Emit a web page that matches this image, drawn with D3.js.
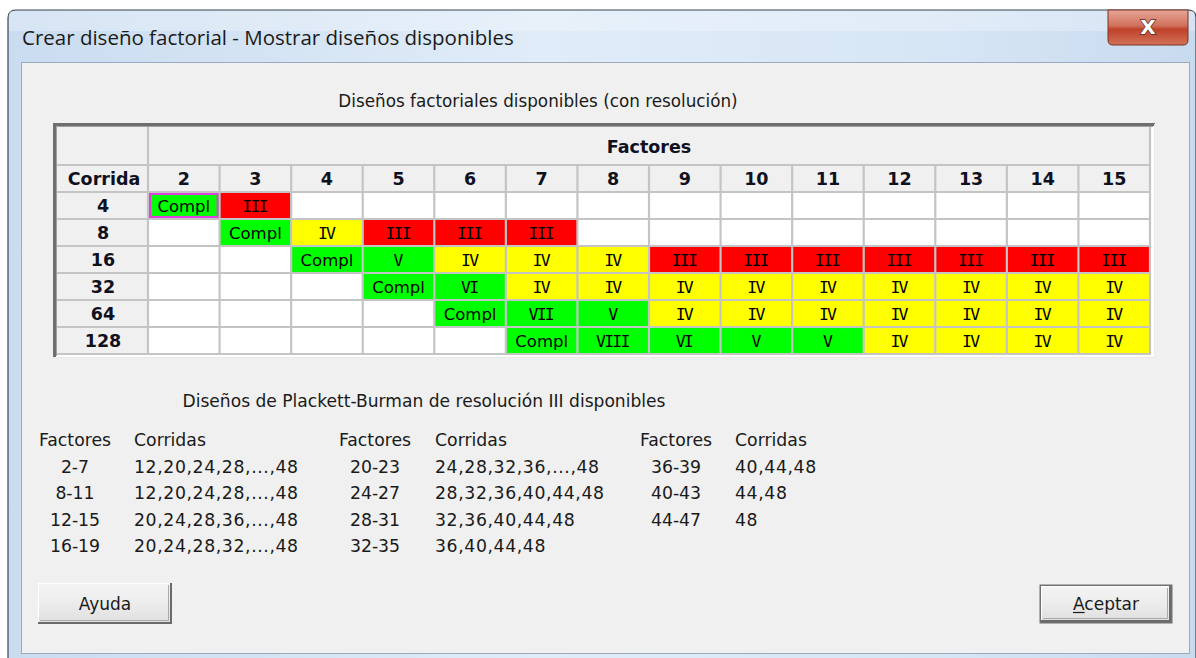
<!DOCTYPE html>
<html><head><meta charset="utf-8">
<script src="https://cdn.jsdelivr.net/npm/d3@7"></script>
<style>html,body{margin:0;padding:0;background:#fff;overflow:hidden}</style>
</head><body><svg id="c" width="1196" height="658" xmlns="http://www.w3.org/2000/svg"></svg>
<script>
// ---------- data ----------
const windowTitle = "Crear diseño factorial - Mostrar diseños disponibles";
const tableTitle = "Diseños factoriales disponibles (con resolución)";
const pbTitle = "Diseños de Plackett-Burman de resolución III disponibles";
const factors = [2,3,4,5,6,7,8,9,10,11,12,13,14,15];
const runs = [4,8,16,32,64,128];
const res4   = ["Compl","III","","","","","","","","","","","",""];
const res8   = ["","Compl","IV","III","III","III","","","","","","","",""];
const res16  = ["","","Compl","V","IV","IV","IV","III","III","III","III","III","III","III"];
const res32  = ["","","","Compl","VI","IV","IV","IV","IV","IV","IV","IV","IV","IV"];
const res64  = ["","","","","Compl","VII","V","IV","IV","IV","IV","IV","IV","IV"];
const res128 = ["","","","","","Compl","VIII","VI","V","V","IV","IV","IV","IV"];
const resolutionLevels = ["", "Compl","III","IV","V","VI","VII","VIII"];
const levelColors = ["#ffffff","#00ff00","#ff0000","#ffff00","#00ff00","#00ff00","#00ff00","#00ff00"];
const pbFactors = ["2-7","8-11","12-15","16-19","20-23","24-27","28-31","32-35","36-39","40-43","44-47"];
const pbRuns = ["12,20,24,28,...,48","12,20,24,28,...,48","20,24,28,36,...,48","20,24,28,32,...,48",
                "24,28,32,36,...,48","28,32,36,40,44,48","32,36,40,44,48","36,40,44,48",
                "40,44,48","44,48","48"];
const pbHeaders = ["Factores","Corridas"];
const buttonLabels = ["Ayuda","Aceptar"];

(function(){
// ---------- drawing ----------
const svg = d3.select("#c");
const FONT = "'DejaVu Sans', Verdana, sans-serif";
const defs = svg.append("defs");

const gFrame = defs.append("linearGradient").attr("id","frameG").attr("x1",0).attr("x2",1).attr("y1",0).attr("y2",0);
gFrame.append("stop").attr("offset","0").attr("stop-color","#cadcf0");
gFrame.append("stop").attr("offset","0.45").attr("stop-color","#e0ecf8");
gFrame.append("stop").attr("offset","0.8").attr("stop-color","#d6e5f5");
gFrame.append("stop").attr("offset","1").attr("stop-color","#c8daee");

const gClose = defs.append("linearGradient").attr("id","closeG").attr("x1",0).attr("x2",0).attr("y1",0).attr("y2",1);
gClose.append("stop").attr("offset","0").attr("stop-color","#e7a797");
gClose.append("stop").attr("offset","0.45").attr("stop-color","#d0705c");
gClose.append("stop").attr("offset","0.55").attr("stop-color","#c0412a");
gClose.append("stop").attr("offset","1").attr("stop-color","#d2725a");

const gBtn = defs.append("linearGradient").attr("id","btnG").attr("x1",0).attr("x2",0).attr("y1",0).attr("y2",1);
gBtn.append("stop").attr("offset","0").attr("stop-color","#f4f4f4");
gBtn.append("stop").attr("offset","0.5").attr("stop-color","#ececec");
gBtn.append("stop").attr("offset","1").attr("stop-color","#dedede");

svg.append("rect").attr("width",1196).attr("height",658).attr("fill","#ffffff");

// window frame
svg.append("path")
  .attr("d","M8,670 L8,18 Q8,10 16,10 L1188,10 Q1196,10 1196,18 L1196,670 Z")
  .attr("fill","url(#frameG)").attr("stroke","#3c4654").attr("stroke-width",1.2);
svg.append("rect").attr("x",9).attr("y",11).attr("width",1186).attr("height",20)
  .attr("fill","#ffffff").attr("opacity",0.25);

svg.append("text").attr("x",22).attr("y",45).attr("font-family","'Open Sans', 'Noto Sans', sans-serif")
  .attr("font-size",20.5).attr("fill","#1a1a1a").text(windowTitle);

// close button
svg.append("path")
  .attr("d","M1108,10 L1188,10 L1188,40 Q1188,45 1183,45 L1113,45 Q1108,45 1108,40 Z")
  .attr("fill","url(#closeG)").attr("stroke","#7a3325").attr("stroke-width",1);
svg.append("text").attr("x",1148).attr("y",34).attr("text-anchor","middle")
  .attr("font-family",FONT).attr("font-weight","bold").attr("font-size",20)
  .attr("fill","#ffffff").attr("stroke","#5a2a20").attr("stroke-width",1.4).attr("paint-order","stroke")
  .text("X");

// client area
svg.append("rect").attr("x",21.5).attr("y",62.5).attr("width",1168).attr("height",591)
  .attr("fill","#f0f0f0").attr("stroke","#9aabbf").attr("stroke-width",1);

// table title
svg.append("text").attr("x",538).attr("y",107).attr("text-anchor","middle")
  .attr("font-family",FONT).attr("font-size",16.8).attr("fill","#1a1a1a").text(tableTitle);

// ---------- table ----------
const tLeft = 57, tTop = 127, colStart = 148, tRight = 1150, hdrBottom = 165, rowsTop = 192, tBottom = 354;
const x = d3.scaleBand().domain(factors).range([colStart, tRight]);
const y = d3.scaleBand().domain(runs).range([rowsTop, tBottom]);
const color = d3.scaleOrdinal().domain(resolutionLevels).range(levelColors);
const rowsData = [res4,res8,res16,res32,res64,res128];
const cells = [];
runs.forEach((r,i)=>factors.forEach((f,j)=>cells.push({r,f,v:rowsData[i][j]})));

const tg = svg.append("g");
// frame (sunken)
tg.append("rect").attr("x",53).attr("y",123).attr("width",1102).attr("height",235).attr("fill","#ffffff");
tg.append("rect").attr("x",tLeft).attr("y",tTop).attr("width",tRight-tLeft).attr("height",tBottom-tTop).attr("fill","#f0f0f0");
tg.append("path").attr("d","M54.5,358 L54.5,124.5 L1155,124.5").attr("fill","none").attr("stroke","#6e6e6e").attr("stroke-width",3);
tg.append("path").attr("d","M56.5,356 L56.5,126.5 L1153,126.5").attr("fill","none").attr("stroke","#a0a0a0").attr("stroke-width",1);
tg.append("path").attr("d","M1154.5,124 L1154.5,357.5 L53,357.5").attr("fill","none").attr("stroke","#e8e8e8").attr("stroke-width",1);

// cells
tg.selectAll("rect.cell").data(cells).join("rect").attr("class","cell")
  .attr("x",d=>x(d.f)).attr("y",d=>y(d.r))
  .attr("width",x.bandwidth()).attr("height",y.bandwidth())
  .attr("fill",d=>color(d.v));

// grid lines
const gridColor = "#c4c4c4";
const vlines = factors.map(f=>x(f)).concat([tRight]);
tg.selectAll("line.v").data(vlines).join("line").attr("class","v")
  .attr("x1",d=>d).attr("x2",d=>d).attr("y1",(d,i)=> (i===0||i===vlines.length-1)?tTop:hdrBottom).attr("y2",tBottom)
  .attr("stroke",gridColor).attr("stroke-width",2.2);
const hlines = [hdrBottom].concat(runs.map(r=>y(r))).concat([tBottom]);
tg.selectAll("line.h").data(hlines).join("line").attr("class","h")
  .attr("x1",tLeft).attr("x2",tRight+1).attr("y1",d=>d).attr("y2",d=>d)
  .attr("stroke",gridColor).attr("stroke-width",2.2);

// selected cell outline
const sel = cells[0];
tg.append("rect").attr("x",x(sel.f)+2).attr("y",y(sel.r)+2)
  .attr("width",x.bandwidth()-4).attr("height",y.bandwidth()-4)
  .attr("fill","none").attr("stroke","#e040e0").attr("stroke-width",2);

// cell labels
tg.selectAll("text.cl").data(cells.filter(d=>d.v)).join("text").attr("class","cl")
  .attr("x",d=>x(d.f)+x.bandwidth()/2+(d.v==="Compl"?0:-0.9)).attr("y",d=>y(d.r)+y.bandwidth()/2+6)
  .attr("text-anchor","middle")
  .attr("font-family",d=>d.v==="Compl"?FONT:"'DejaVu Sans Mono', monospace")
  .attr("font-size",d=>d.v==="Compl"?16.5:16.5)
  .attr("letter-spacing",d=>d.v==="Compl"?0:-1.8)
  .attr("fill","#000").text(d=>d.v);

// headers
const hb = {"font-family":FONT,"font-weight":"bold","font-size":17.5,"fill":"#0f1020"};
function applyAttrs(s,o){Object.entries(o).forEach(([k,v])=>s.attr(k,v));return s;}
applyAttrs(tg.append("text").attr("x",(colStart+tRight)/2).attr("y",153).attr("text-anchor","middle"),hb).text("Factores");
applyAttrs(tg.append("text").attr("x",104).attr("y",(hdrBottom+rowsTop)/2+6.5).attr("text-anchor","middle"),hb).text("Corrida");
factors.forEach(f=>{
  applyAttrs(tg.append("text").attr("x",x(f)+x.bandwidth()/2).attr("y",(hdrBottom+rowsTop)/2+6.5).attr("text-anchor","middle"),hb).text(f);
});
runs.forEach(r=>{
  applyAttrs(tg.append("text").attr("x",103).attr("y",y(r)+y.bandwidth()/2+6.5).attr("text-anchor","middle"),hb).text(r);
});

// ---------- Plackett-Burman ----------
svg.append("text").attr("x",424).attr("y",407).attr("text-anchor","middle")
  .attr("font-family",FONT).attr("font-size",17.1).attr("fill","#1a1a1a").text(pbTitle);
const groupX = [{fc:75, cx:134},{fc:375, cx:435},{fc:676, cx:735}];
const pbY = d3.scalePoint().domain([0,1,2,3,4]).range([446,552]);
const pbFont = {"font-family":FONT,"font-size":17.3,"fill":"#1a1a1a"};
groupX.forEach((g,gi)=>{
  applyAttrs(svg.append("text").attr("x",g.fc).attr("y",pbY(0)).attr("text-anchor","middle"),pbFont).text(pbHeaders[0]);
  applyAttrs(svg.append("text").attr("x",g.cx).attr("y",pbY(0)),pbFont).text(pbHeaders[1]);
  for(let k=0;k<4;k++){
    const idx = gi*4+k;
    if(idx>=pbFactors.length) break;
    applyAttrs(svg.append("text").attr("x",g.fc).attr("y",pbY(k+1)).attr("text-anchor","middle"),pbFont).text(pbFactors[idx]);
    applyAttrs(svg.append("text").attr("x",g.cx).attr("y",pbY(k+1)).attr("letter-spacing",0.6),pbFont).text(pbRuns[idx]);
  }
});

// ---------- buttons ----------
function button(x0,y0,w,h,label,isDefault){
  const g = svg.append("g");
  if(isDefault){
    g.append("rect").attr("x",x0+0.5).attr("y",y0+0.5).attr("width",w-1).attr("height",h-1)
      .attr("fill","#707070");
    x0+=2;y0+=2;w-=4;h-=4;
  }
  g.append("rect").attr("x",x0).attr("y",y0).attr("width",w).attr("height",h).attr("fill","url(#btnG)");
  g.append("path").attr("d",`M${x0+0.5},${y0+h} L${x0+0.5},${y0+0.5} L${x0+w},${y0+0.5}`).attr("fill","none").attr("stroke","#ffffff").attr("stroke-width",1);
  g.append("path").attr("d",`M${x0+w-1},${y0} L${x0+w-1},${y0+h-1} L${x0},${y0+h-1}`).attr("fill","none").attr("stroke","#6a6a6a").attr("stroke-width",2);
  g.append("path").attr("d",`M${x0+w-3.5},${y0+2} L${x0+w-3.5},${y0+h-3.5} L${x0+2},${y0+h-3.5}`).attr("fill","none").attr("stroke","#a9a9a9").attr("stroke-width",1);
  const t = g.append("text").attr("x",x0+w/2).attr("y",y0+h/2+6).attr("text-anchor","middle")
    .attr("font-family",FONT).attr("font-size",17).attr("fill","#1a1a1a").text(label);
  return t;
}
button(38,583,134,41,buttonLabels[0],false);
const acc = button(1039,584,134,40,buttonLabels[1],true);
// underline first letter of "Aceptar"
const bb = acc.node().getBBox();
const tmp = svg.append("text").attr("font-family",FONT).attr("font-size",17).text(buttonLabels[1][0]);
const firstW = tmp.node().getComputedTextLength(); tmp.remove();
svg.append("line").attr("x1",bb.x).attr("x2",bb.x+firstW).attr("y1",+acc.attr("y")+2.5).attr("y2",+acc.attr("y")+2.5)
  .attr("stroke","#1a1a1a").attr("stroke-width",1.2);
})();
</script>
</body></html>
